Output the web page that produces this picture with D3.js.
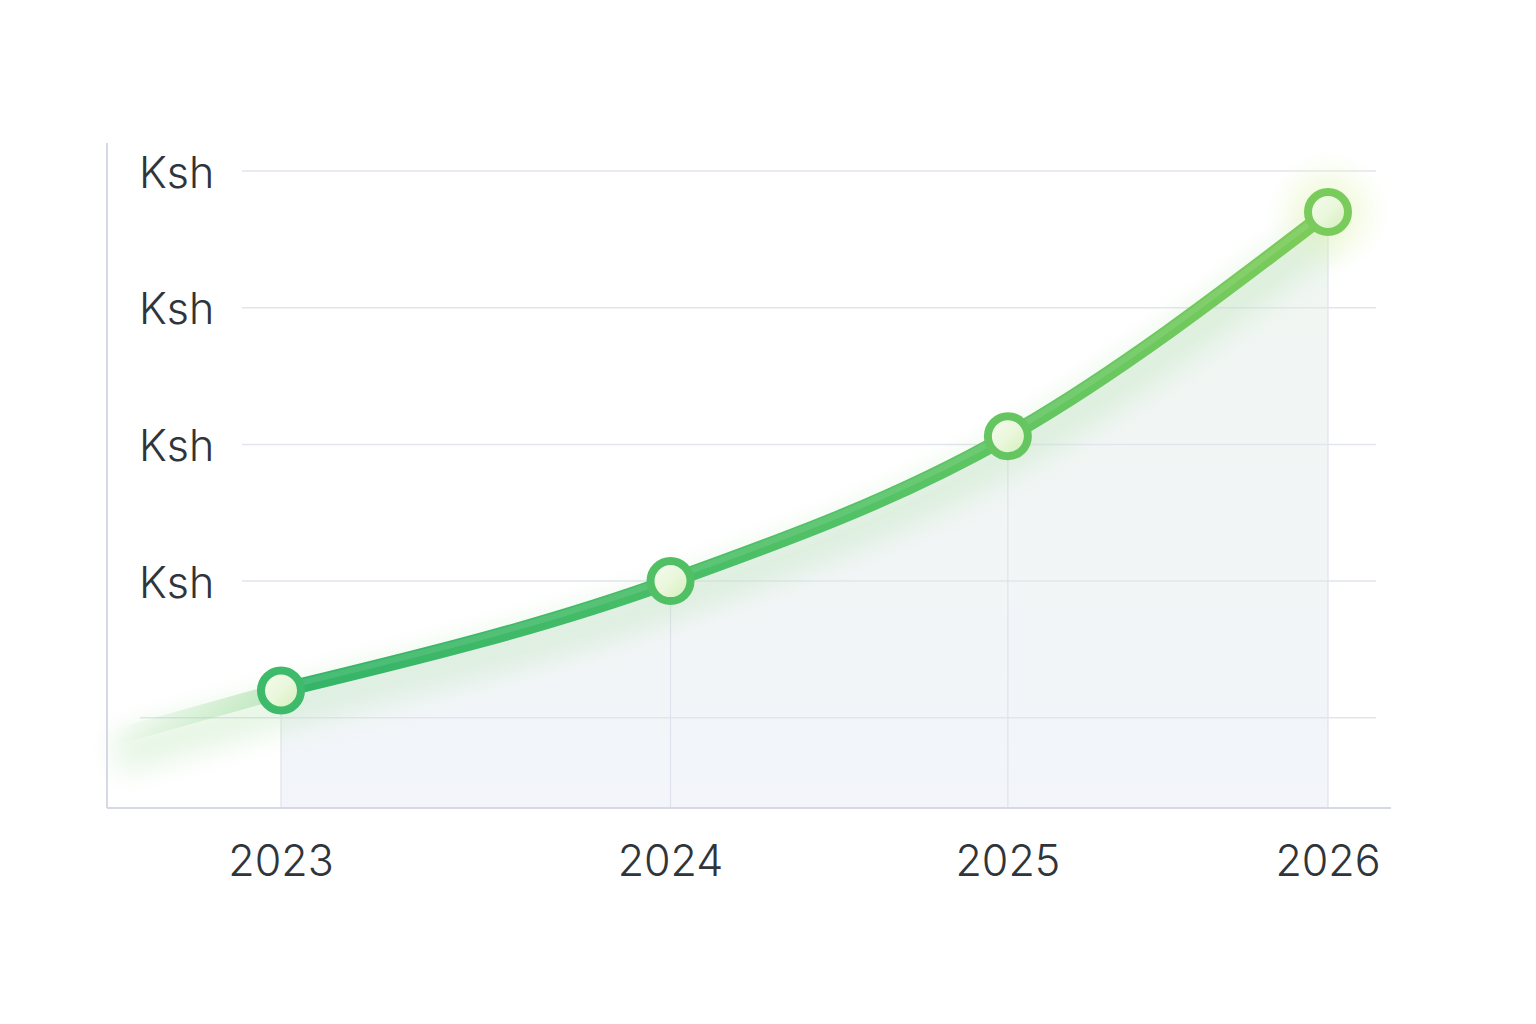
<!doctype html>
<html lang="en">
<head>
<meta charset="utf-8">
<title>Ksh growth</title>
<script src="https://d3js.org/d3.v7.min.js"></script>
<style>
  body { margin: 0; background: #fff; font-family: Inter, "Noto Sans", sans-serif; }
  svg { display: block; }
</style>
</head>
<body>
<div id="chart"></div>
<script>
// data
var years = ["2023", "2024", "2025", "2026"];
var values = [10, 50, 103, 185];
var tickValues = [0, 50, 100, 150, 200];
var tickLabels = ["", "Ksh", "Ksh", "Ksh", "Ksh"];

var W = 1536, H = 1024;
var svg = d3.select("#chart").append("svg").attr("width", W).attr("height", H);

var x = d3.scalePow().exponent(0.9).domain([0, years.length - 1]).range([281, 1328]);
var y = d3.scaleLinear().domain([-33, 200]).range([808, 171]);

var pts = values.map(function (v, i) { return [x(i), y(v)]; });

var defs = svg.append("defs");
var lg = defs.append("linearGradient").attr("id", "lineGrad")
  .attr("gradientUnits", "userSpaceOnUse").attr("x1", 281).attr("x2", 1328).attr("y1", 0).attr("y2", 0);
lg.append("stop").attr("offset", 0).attr("stop-color", "#33b468");
lg.append("stop").attr("offset", 0.55).attr("stop-color", "#52c266");
lg.append("stop").attr("offset", 1).attr("stop-color", "#7dcc58");

var ag = defs.append("linearGradient").attr("id", "areaGrad").attr("x1", 0).attr("x2", 0).attr("y1", 0).attr("y2", 1);
ag.append("stop").attr("offset", 0).attr("stop-color", "#f0f6f1");
ag.append("stop").attr("offset", 1).attr("stop-color", "#f3f5fa");

var fg = defs.append("linearGradient").attr("id", "fadeGrad").attr("gradientUnits", "userSpaceOnUse")
  .attr("x1", 115).attr("x2", 281).attr("y1", 0).attr("y2", 0);
fg.append("stop").attr("offset", 0).attr("stop-color", "#9ad99a").attr("stop-opacity", 0);
fg.append("stop").attr("offset", 1).attr("stop-color", "#9ad99a").attr("stop-opacity", 0.55);

var pg = defs.append("linearGradient").attr("id", "ptGrad").attr("x1", 0).attr("y1", 0).attr("x2", 1).attr("y2", 1);
pg.append("stop").attr("offset", 0).attr("stop-color", "#f6fbef");
pg.append("stop").attr("offset", 0.5).attr("stop-color", "#eaf7dc");
pg.append("stop").attr("offset", 1).attr("stop-color", "#d2eeb6");

var rg = defs.append("radialGradient").attr("id", "glowGrad");
rg.append("stop").attr("offset", 0).attr("stop-color", "#d8ef9a").attr("stop-opacity", 0.6);
rg.append("stop").attr("offset", 1).attr("stop-color", "#eef8d0").attr("stop-opacity", 0);

defs.append("filter").attr("id", "blur").attr("x", "-20%").attr("y", "-50%").attr("width", "140%").attr("height", "200%")
  .append("feGaussianBlur").attr("stdDeviation", 14);

// area under curve
var area = d3.area().x(function (d) { return d[0]; }).y0(808).y1(function (d) { return d[1]; }).curve(d3.curveMonotoneX);
svg.append("path").attr("d", area(pts)).attr("fill", "url(#areaGrad)");

// gridlines
svg.selectAll(".grid").data(tickValues).enter().append("line")
  .attr("x1", function (d) { return d === 0 ? 140 : 242; })
  .attr("x2", 1376)
  .attr("y1", function (d) { return y(d); }).attr("y2", function (d) { return y(d); })
  .attr("stroke", "#e2e5ee").attr("stroke-width", 1.5);

svg.selectAll(".vgrid").data(pts).enter().append("line")
  .attr("x1", function (d) { return d[0]; }).attr("x2", function (d) { return d[0]; })
  .attr("y1", function (d) { return d[1]; }).attr("y2", 808)
  .attr("stroke", "#dfe2ec").attr("stroke-width", 1.2);

// extension before first point, along first segment's slope
var slope = (pts[1][1] - pts[0][1]) / (pts[1][0] - pts[0][0]);
var ext = [[115, pts[0][1] + slope * (115 - pts[0][0])], pts[0]];

// glow under the line
var line = d3.line().x(function (d) { return d[0]; }).y(function (d) { return d[1]; }).curve(d3.curveMonotoneX);
svg.append("path").attr("d", line([ext[0]].concat(pts)))
  .attr("transform", "translate(0,18)")
  .attr("fill", "none").attr("stroke", "#9edb96").attr("stroke-width", 40).attr("opacity", 0.25)
  .attr("filter", "url(#blur)");

svg.append("path").attr("d", d3.line()(ext))
  .attr("fill", "none").attr("stroke", "url(#fadeGrad)").attr("stroke-width", 16);

// axes
svg.append("line").attr("x1", 107).attr("x2", 107).attr("y1", 143).attr("y2", 808)
  .attr("stroke", "#d5d9e6").attr("stroke-width", 2);
svg.append("line").attr("x1", 107).attr("x2", 1391).attr("y1", 808).attr("y2", 808)
  .attr("stroke", "#d5d9e6").attr("stroke-width", 2);

// glow at last point
var last = pts[pts.length - 1];
svg.append("circle").attr("cx", last[0]).attr("cy", last[1]).attr("r", 62).attr("fill", "url(#glowGrad)");

// main line
svg.append("path").attr("d", line(pts))
  .attr("fill", "none").attr("stroke", "url(#lineGrad)").attr("stroke-width", 15)
  .attr("stroke-linecap", "round");
svg.append("path").attr("d", line(pts)).attr("transform", "translate(0,-3)")
  .attr("fill", "none").attr("stroke", "#ffffff").attr("stroke-opacity", 0.1).attr("stroke-width", 6);

// points
svg.selectAll(".pt").data(pts).enter().append("circle")
  .attr("cx", function (d) { return d[0]; }).attr("cy", function (d) { return d[1]; })
  .attr("r", 20)
  .attr("fill", "url(#ptGrad)")
  .attr("stroke", function (d, i) { return d3.interpolateRgb("#3dba6a", "#79cc5c")(i / (pts.length - 1)); })
  .attr("stroke-width", 8);

// y labels
svg.selectAll(".ylab").data(tickValues).enter().append("text")
  .attr("x", 139).attr("y", function (d) { return y(d) + 5; })
  .attr("dominant-baseline", "middle")
  .attr("font-size", 43).attr("font-weight", 300).attr("fill", "#30353c")
  .text(function (d, i) { return tickLabels[i]; });

// x labels
svg.selectAll(".xlab").data(years).enter().append("text")
  .attr("x", function (d, i) { return x(i); }).attr("y", 864)
  .attr("text-anchor", "middle").attr("dominant-baseline", "middle")
  .attr("font-size", 43).attr("font-weight", 300).attr("fill", "#30353c")
  .text(function (d) { return d; });
</script>
</body>
</html>
